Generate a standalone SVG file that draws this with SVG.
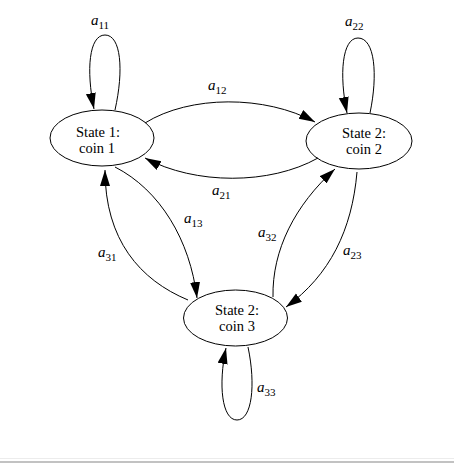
<svg xmlns="http://www.w3.org/2000/svg" width="454" height="463" viewBox="0 0 454 463">
<style>
.node ellipse{fill:none;stroke:#000;stroke-width:1}
.node text{font-family:"Liberation Serif","Times New Roman",serif;font-size:14.5px;fill:#000;text-anchor:middle}
.edge path{fill:none;stroke:#000;stroke-width:1;marker-end:url(#ah)}
.lbl{font-family:"Liberation Serif","Times New Roman",serif;font-size:15px;fill:#000}
.lbl .a{font-style:italic}
.lbl .s{font-size:11px}
</style>
<defs>
<marker id="ah" markerUnits="userSpaceOnUse" markerWidth="17" markerHeight="11" refX="16" refY="5" orient="auto">
<path d="M0,0 L16,5 L0,10 z" fill="#000"/>
</marker>
</defs>
<rect x="0" y="0" width="454" height="463" fill="#fff"/>
<rect x="0" y="458" width="454" height="1" fill="#ececec"/>
<rect x="0" y="461" width="454" height="2" fill="#c2c2c2"/>
<g id="connectors" class="edge">
<path d="M115,110 C124,70 121,35 105,35 C89,35 86,70 94,109"/>
<path d="M370,113 C378,75 375,38 358,38 C342,38 339,75 347,113"/>
<path d="M248,347 C256,385 252,420 237,420 C222,420 218,385 226,348"/>
<path d="M145,123 C190,95 265,95 315,122"/>
<path d="M318,158 C270,185 195,185 145,158"/>
<path d="M115,167 C160,190 190,240 197,298"/>
<path d="M188,300 C140,280 105,240 105,170"/>
<path d="M273,297 C272,250 295,205 335,169"/>
<path d="M357,172 C352,230 330,275 286,307"/>
</g>
<g id="labels" class="lbl">
<text x="91" y="25"><tspan class="a">a</tspan><tspan class="s" dy="4">11</tspan></text>
<text x="345" y="26"><tspan class="a">a</tspan><tspan class="s" dy="4">22</tspan></text>
<text x="208" y="90"><tspan class="a">a</tspan><tspan class="s" dy="4">12</tspan></text>
<text x="212" y="195"><tspan class="a">a</tspan><tspan class="s" dy="4">21</tspan></text>
<text x="184" y="223"><tspan class="a">a</tspan><tspan class="s" dy="4">13</tspan></text>
<text x="98" y="257"><tspan class="a">a</tspan><tspan class="s" dy="4">31</tspan></text>
<text x="258" y="237"><tspan class="a">a</tspan><tspan class="s" dy="4">32</tspan></text>
<text x="343" y="255"><tspan class="a">a</tspan><tspan class="s" dy="4">23</tspan></text>
<text x="257" y="392"><tspan class="a">a</tspan><tspan class="s" dy="4">33</tspan></text>
</g>
<g id="state1" class="node">
<ellipse cx="102" cy="138" rx="52" ry="28"/>
<text x="98" y="137">State 1:</text>
<text x="97" y="153">coin 1</text>
</g>
<g id="state2" class="node">
<ellipse cx="359" cy="141" rx="53" ry="28"/>
<text x="364" y="138">State 2:</text>
<text x="364" y="154">coin 2</text>
</g>
<g id="state3" class="node">
<ellipse cx="235.5" cy="318" rx="52" ry="28"/>
<text x="237" y="315">State 2:</text>
<text x="237" y="331">coin 3</text>
</g>
</svg>
